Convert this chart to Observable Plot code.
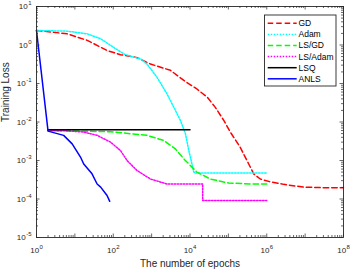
<!DOCTYPE html>
<html><head><meta charset="utf-8">
<script src="https://cdn.jsdelivr.net/npm/d3@7"></script>
<script src="https://cdn.jsdelivr.net/npm/@observablehq/plot@0.6"></script>
<style>body{margin:0;background:#fff}svg{display:block}</style>
</head><body><div id="chart"></div>
<script>
// ---- data ----
const xDecades = [1, 1e1, 1e2, 1e3, 1e4, 1e5, 1e6, 1e7, 1e8];
const yDecades = [1e-5, 1e-4, 1e-3, 1e-2, 1e-1, 1, 10];
const xTickLabels = [1, 1e2, 1e4, 1e6, 1e8];
const yTickLabels = [1e-5, 1e-4, 1e-3, 1e-2, 1e-1, 1, 10];
const minorMultipliers = [2, 3, 4, 5, 6, 7, 8, 9];
const seriesNames = ["GD", "Adam", "LS/GD", "LS/Adam", "LSQ", "ANLS"];

const gdEpochs = [1, 1.55, 6.3, 21, 69, 155, 417, 933, 3090, 6920, 15100, 28200, 45700, 75900, 112000, 204000, 339000, 457000, 676000, 1.23e6, 2.75e6, 9.1e6, 3.7e7, 1e8];
const gdLoss   = [2.38, 2.29, 1.95, 1.32, 0.72, 0.56, 0.47, 0.32, 0.22, 0.12, 0.072, 0.044, 0.024, 0.011, 0.0055, 0.0022, 0.00081, 0.00045, 0.00033, 0.00028, 0.00024, 0.000204, 0.000195, 0.000195];

const adamEpochs = [1, 6.3, 21, 47, 102, 186, 339, 513, 759, 1380, 2510, 3800, 5620, 7590, 9330, 12600, 13800, 1e6];
const adamLoss   = [2.38, 2.29, 1.95, 1.45, 0.87, 0.59, 0.48, 0.44, 0.32, 0.145, 0.054, 0.024, 0.011, 0.005, 0.0018, 0.0005, 0.00047, 0.00047];

const lsgdEpochs = [2, 85, 759, 2090, 4170, 6920, 15100, 33900, 102000, 372000, 1e6];
const lsgdLoss   = [0.006, 0.0056, 0.0045, 0.0033, 0.002, 0.0011, 0.0005, 0.00033, 0.00026, 0.000245, 0.000245];

const lsadamEpochs = [2, 5.7, 16.6, 38, 85, 155, 229, 417, 933, 2510, 5620, 21400, 21400, 1e6];
const lsadamLoss   = [0.006, 0.0059, 0.0055, 0.0045, 0.003, 0.0018, 0.001, 0.00055, 0.00033, 0.000245, 0.000245, 0.000245, 0.000091, 0.000091];

const lsqEpochs = [2, 10000];
const lsqLoss   = [0.0063, 0.0063];

const anlsEpochs = [1, 2, 5.1, 8.5, 14, 17, 28, 38, 47, 69, 81];
const anlsLoss   = [2.38, 0.0058, 0.0045, 0.0027, 0.00123, 0.00081, 0.00045, 0.000245, 0.000204, 0.000123, 0.000087];

// ---- styles ----
const styles = {
  "GD":      {stroke: "#ff0000", dash: "5.5,3"},
  "Adam":    {stroke: "#00ffff", dash: "1.5,1.5"},
  "LS/GD":   {stroke: "#00ff00", dash: "5.5,3"},
  "LS/Adam": {stroke: "#ff00ff", dash: "1.5,1.5"},
  "LSQ":     {stroke: "#000000", dash: null},
  "ANLS":    {stroke: "#0000ff", dash: null}
};
const seriesData = {
  "GD": [gdEpochs, gdLoss],
  "Adam": [adamEpochs, adamLoss],
  "LS/GD": [lsgdEpochs, lsgdLoss],
  "LS/Adam": [lsadamEpochs, lsadamLoss],
  "LSQ": [lsqEpochs, lsqLoss],
  "ANLS": [anlsEpochs, anlsLoss]
};

const W = 354, H = 273, ML = 36, MR = 11, MT = 6, MB = 36;
const PW = W - ML - MR, PH = H - MT - MB;
const MAJ = 3.5, MIN = 2;
const ink = "#262626";
const font = "'Liberation Sans', Arial, Helvetica, sans-serif";

const xMinor = xDecades.slice(0, -1).flatMap(d => minorMultipliers.map(m => d * m));
const yMinor = yDecades.slice(0, -1).flatMap(d => minorMultipliers.map(m => d * m));
const fmt = d => `10^${Math.round(Math.log10(d))}`;

const lineMarks = seriesNames.map(name => {
  const [xs, ys] = seriesData[name];
  const rows = xs.map((x, i) => ({x, y: ys[i]}));
  const s = styles[name];
  const opts = {x: "x", y: "y", stroke: s.stroke, strokeWidth: 1.5, strokeLinejoin: "round"};
  if (s.dash) opts.strokeDasharray = s.dash;
  return Plot.line(rows, opts);
});

const tickOpts = {stroke: ink, strokeWidth: 0.7};
const svg = Plot.plot({
  width: W, height: H,
  marginLeft: ML, marginRight: MR, marginTop: MT, marginBottom: MB,
  style: {background: "#fff", fontFamily: font, color: ink},
  x: {type: "log", domain: [1, 1e8], axis: null},
  y: {type: "log", domain: [1e-5, 10], axis: null},
  marks: [
    ...lineMarks,
    Plot.tickX(xDecades, {x: d => d, insetTop: PH - MAJ, ...tickOpts}),
    Plot.tickX(xDecades, {x: d => d, insetBottom: PH - MAJ, ...tickOpts}),
    Plot.tickX(xMinor, {x: d => d, insetTop: PH - MIN, ...tickOpts}),
    Plot.tickX(xMinor, {x: d => d, insetBottom: PH - MIN, ...tickOpts}),
    Plot.tickY(yDecades, {y: d => d, insetRight: PW - MAJ, ...tickOpts}),
    Plot.tickY(yDecades, {y: d => d, insetLeft: PW - MAJ, ...tickOpts}),
    Plot.tickY(yMinor, {y: d => d, insetRight: PW - MIN, ...tickOpts}),
    Plot.tickY(yMinor, {y: d => d, insetLeft: PW - MIN, ...tickOpts}),
    Plot.frame({stroke: ink, strokeWidth: 0.9}),
    Plot.text(xTickLabels, {x: d => d, text: fmt, frameAnchor: "bottom", dy: 15, fontSize: 8, fill: ink}),
    Plot.text(yTickLabels, {y: d => d, text: fmt, frameAnchor: "left", dx: -5, textAnchor: "end", fontSize: 8, fill: ink}),
    Plot.text(["The number of epochs"], {frameAnchor: "bottom", dy: 29, fontSize: 10, fill: ink}),
    Plot.text(["Training Loss"], {frameAnchor: "left", dx: -31, rotate: -90, fontSize: 10, fill: ink})
  ]
});

// superscripts for 10^k labels
d3.select(svg).selectAll("text").each(function () {
  const m = /^10\^(-?\d+)$/.exec(this.textContent);
  if (m) {
    this.textContent = "10";
    d3.select(this).append("tspan").attr("dy", -3.6).attr("dx", 0.4).attr("font-size", 6).text(m[1]);
  }
});

// legend box inside the axes (top right)
const lg = d3.select(svg).append("g")
  .style("font-family", font).style("font-size", "8.5px").attr("text-anchor", "start");
lg.append("rect").attr("x", 264.5).attr("y", 15).attr("width", 71.5).attr("height", 71)
  .style("fill", "#ffffff").style("stroke", ink).style("stroke-width", "0.9px");
seriesNames.forEach((name, i) => {
  const yy = 23.3 + i * 11.1;
  const s = styles[name];
  const ln = lg.append("line").attr("x1", 267.7).attr("x2", 296.7).attr("y1", yy).attr("y2", yy)
    .style("stroke", s.stroke).style("stroke-width", "1.5px");
  if (s.dash) ln.style("stroke-dasharray", s.dash);
  lg.append("text").attr("x", 298.5).attr("y", yy).attr("dy", "0.35em")
    .attr("text-anchor", "start").style("fill", "#000").text(name);
});

document.getElementById("chart").appendChild(svg);
</script>
</body></html>
